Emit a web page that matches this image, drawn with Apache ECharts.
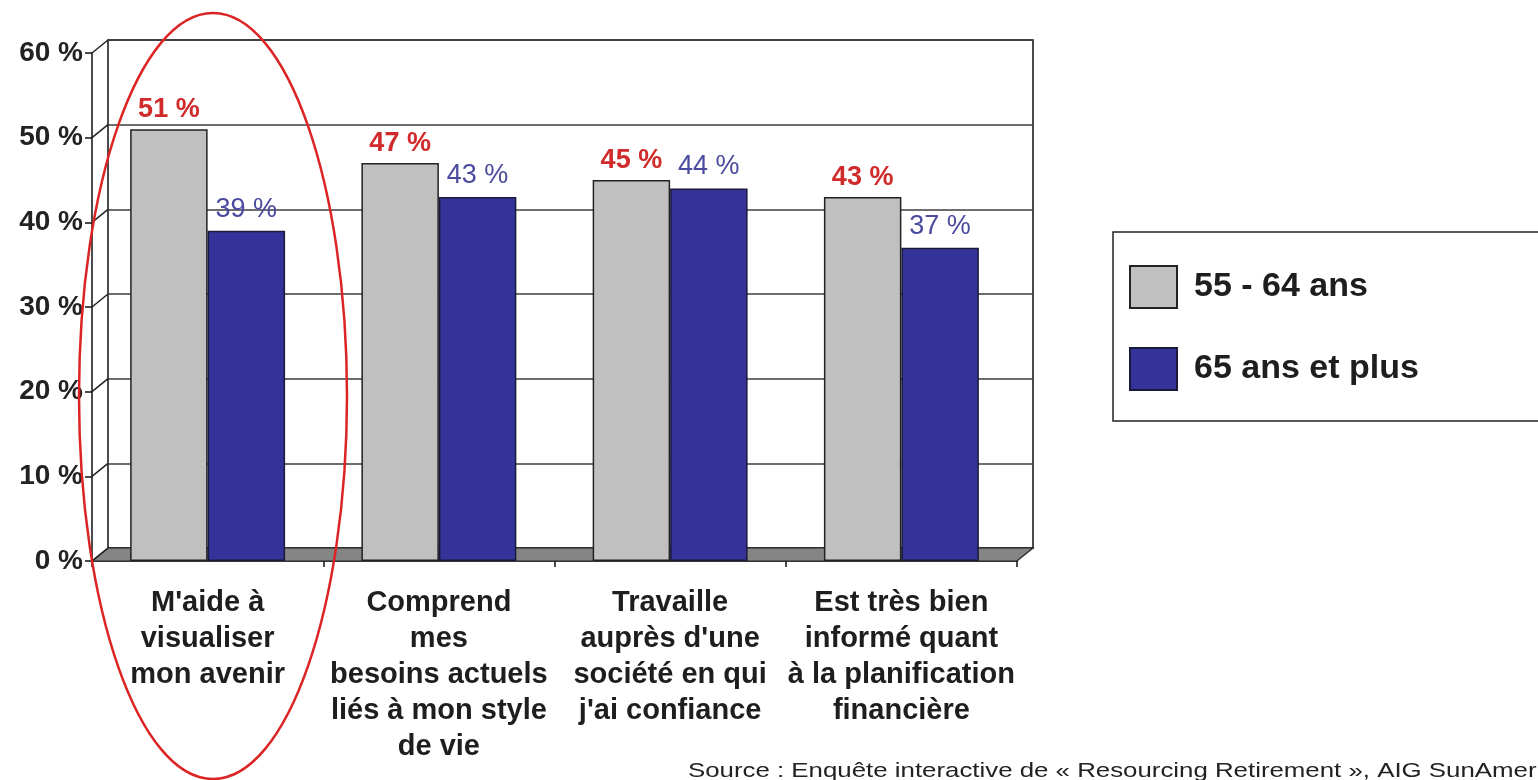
<!DOCTYPE html>
<html>
<head>
<meta charset="utf-8">
<script src="https://cdn.jsdelivr.net/npm/echarts@6/dist/echarts.min.js"></script>
<style>
  html, body { margin: 0; padding: 0; background: #ffffff; }
  #chart { width: 1538px; height: 780px; }
</style>
</head>
<body>
<div id="chart"></div>
<script>
// Categories (axis labels, wrapped as printed)
const categories = [
  "M'aide à\nvisualiser\nmon avenir",
  "Comprend\nmes\nbesoins actuels\nliés à mon style\nde vie",
  "Travaille\nauprès d'une\nsociété en qui\nj'ai confiance",
  "Est très bien\ninformé quant\nà la planification\nfinancière"
];

// Series
const seriesNames = ['55 - 64 ans', '65 ans et plus'];
const values5564 = [51, 47, 45, 43];
const values65plus = [39, 43, 44, 37];

// Value-axis ticks (percent)
const yTicks = [0, 10, 20, 30, 40, 50, 60];

const sourceText = 'Source : Enquête interactive de « Resourcing Retirement », AIG SunAmerica';

// Pseudo-3D depth: the back wall is shifted right/up against the front plane
const DEPTH_X = 16;
const DEPTH_Y = 13;
const BACK = { left: 108, top: 40, width: 925, height: 508 };
const FRONT = { left: BACK.left - DEPTH_X, top: BACK.top + DEPTH_Y, width: BACK.width, height: BACK.height };

const FONT = "'Liberation Sans', Arial, sans-serif";
const yMin = yTicks[0];
const yMax = yTicks[yTicks.length - 1];
const yStep = yTicks[1] - yTicks[0];

// Floor slab between the back wall and the front axis line
function renderFloor(params, api) {
  const r = params.coordSys;
  const yb = api.coord([0, yMin])[1];
  return {
    type: 'polygon',
    shape: {
      points: [
        [r.x, yb],
        [r.x + r.width, yb],
        [r.x + r.width - DEPTH_X, yb + DEPTH_Y],
        [r.x - DEPTH_X, yb + DEPTH_Y]
      ]
    },
    style: { fill: '#858585', stroke: '#222', lineWidth: 1.2 }
  };
}

// Side-wall segments joining each back gridline to its front tick
function renderDepthTick(params, api) {
  const r = params.coordSys;
  const y = api.coord([0, api.value(1)])[1];
  return {
    type: 'line',
    shape: { x1: r.x, y1: y, x2: r.x - DEPTH_X, y2: y + DEPTH_Y },
    style: { stroke: '#222', lineWidth: 1.5 }
  };
}

const chart = echarts.init(document.getElementById('chart'), null, { renderer: 'canvas' });

chart.setOption({
  backgroundColor: '#ffffff',
  animation: false,
  textStyle: { fontFamily: FONT },
  grid: [
    {
      left: BACK.left, top: BACK.top, width: BACK.width, height: BACK.height,
      show: true, backgroundColor: '#ffffff', borderColor: '#111', borderWidth: 1.5
    },
    {
      left: FRONT.left, top: FRONT.top, width: FRONT.width, height: FRONT.height,
      show: false
    }
  ],
  xAxis: [
    {
      gridIndex: 0, type: 'category', data: categories,
      axisLine: { show: false }, axisTick: { show: false }, axisLabel: { show: false },
      splitLine: { show: false }
    },
    {
      gridIndex: 1, type: 'category', data: categories,
      axisLine: { show: true, lineStyle: { color: '#111', width: 1.5 } },
      axisTick: { show: true, length: 6, lineStyle: { color: '#111', width: 1.5 } },
      axisLabel: {
        interval: 0, margin: 24,
        fontFamily: FONT, fontWeight: 'bold', fontSize: 29, lineHeight: 36, color: '#1e1e1e'
      }
    }
  ],
  yAxis: [
    {
      gridIndex: 0, type: 'value', min: yMin, max: yMax, interval: yStep,
      axisLine: { show: false }, axisTick: { show: false }, axisLabel: { show: false },
      splitLine: { show: true, lineStyle: { color: '#3c3c3c', width: 1.6 } }
    },
    {
      gridIndex: 1, type: 'value', min: yMin, max: yMax, interval: yStep,
      axisLine: { show: true, lineStyle: { color: '#111', width: 1.5 } },
      axisTick: { show: true, length: 7, lineStyle: { color: '#111', width: 1.5 } },
      splitLine: { show: false },
      axisLabel: {
        margin: 9, formatter: '{value} %',
        fontFamily: FONT, fontWeight: 'bold', fontSize: 28, color: '#222'
      }
    }
  ],
  legend: {
    orient: 'vertical',
    left: 1113, top: 232,
    padding: [33, 200, 30, 16],
    itemWidth: 47, itemHeight: 42, itemGap: 38,
    borderColor: '#222', borderWidth: 1.5,
    backgroundColor: '#ffffff',
    icon: 'rect',
    data: seriesNames,
    textStyle: {
      fontFamily: FONT, fontWeight: 'bold', fontSize: 34, color: '#1e1e1e',
      padding: [4, 0, 0, 12]
    }
  },
  series: [
    {
      type: 'custom', name: 'floor', xAxisIndex: 0, yAxisIndex: 0,
      renderItem: renderFloor, data: [[0, yMin]], z: 1, silent: true,
      legendHoverLink: false
    },
    {
      type: 'custom', name: 'wall', xAxisIndex: 0, yAxisIndex: 0,
      renderItem: renderDepthTick, data: yTicks.map(v => [0, v]), z: 1, silent: true,
      legendHoverLink: false, clip: false
    },
    {
      name: seriesNames[0], type: 'bar', xAxisIndex: 1, yAxisIndex: 1,
      data: values5564, barGap: '0%', barCategoryGap: '33%', z: 3,
      itemStyle: { color: '#c0c0c0', borderColor: '#222', borderWidth: 1.5 },
      label: {
        show: true, position: 'top', distance: 6, formatter: '{c} %',
        fontFamily: FONT, fontWeight: 'bold', fontSize: 27, color: '#d02a2a'
      }
    },
    {
      name: seriesNames[1], type: 'bar', xAxisIndex: 1, yAxisIndex: 1,
      data: values65plus, z: 3,
      itemStyle: { color: '#333399', borderColor: '#1a1a3a', borderWidth: 1.5 },
      label: {
        show: true, position: 'top', distance: 8, formatter: '{c} %',
        fontFamily: FONT, fontWeight: 'normal', fontSize: 27, color: '#4a4a9e'
      }
    }
  ],
  graphic: [
    {
      type: 'ellipse', z: 100, silent: true,
      shape: { cx: 213, cy: 396, rx: 134, ry: 383 },
      style: { fill: null, stroke: '#dc2424', lineWidth: 2.5 }
    },
    {
      type: 'text', z: 100, x: 688, y: 761, scaleX: 1.23, silent: true,
      style: { text: sourceText, fontFamily: FONT, fontSize: 21, fill: '#222' }
    }
  ]
});
</script>
</body>
</html>
